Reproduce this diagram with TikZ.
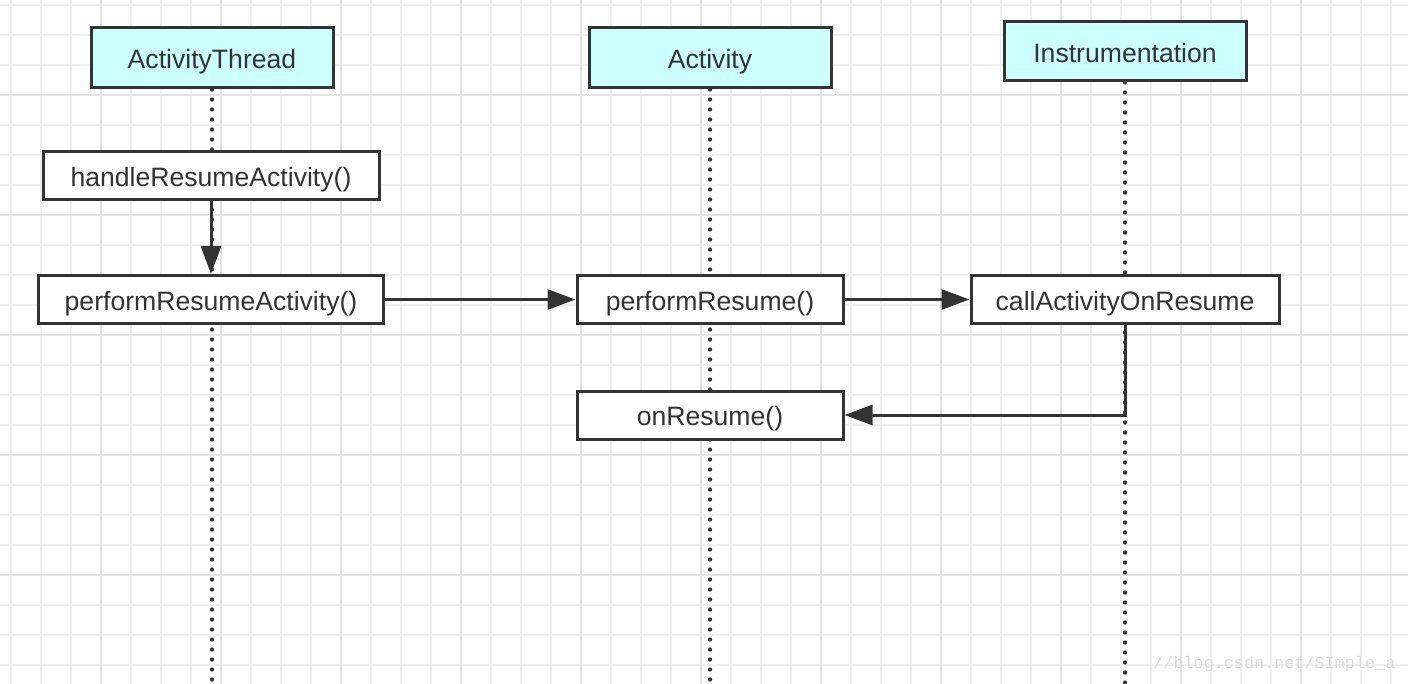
\documentclass[tikz,border=0pt]{standalone}
\usepackage{fontspec}
\setmainfont{Liberation Sans}
\newfontfamily\wmfont{Liberation Mono}
\usetikzlibrary{arrows, arrows.meta}
\usetikzlibrary{calc}
\definecolor{hdrcyan}{HTML}{CCFFFF}
\definecolor{boxline}{HTML}{333333}
\definecolor{gridminor}{HTML}{F0F0F0}
\definecolor{gridmajor}{HTML}{E3E3E3}

\begin{document}
\begin{tikzpicture}[x=0.5pt, y=-0.5pt,
      header/.style={draw=boxline, line width=1.5pt, fill=hdrcyan, text=boxline, font=\fontsize{13.3}{16}\selectfont, text height=10.7pt, text depth=0pt, minimum width=121pt, minimum height=30pt, inner sep=0pt},
      callbox/.style={draw=boxline, line width=1.5pt, fill=white, text=boxline, font=\fontsize{13.3}{16}\selectfont, text height=10.7pt, text depth=0pt, minimum height=24pt, inner sep=0pt},
      lifeline/.style={boxline, line width=2.1pt, line cap=round, dash pattern=on 0pt off 5pt},
      msg/.style={boxline, line width=1.5pt, -{Triangle[length=14pt, width=10pt]}}]
      \useasboundingbox (0,0) rectangle (1408,684);
      \fill[white] (0,0) rectangle (1408,684);
      \foreach \gx in {11,41,...,1408} \draw[gridminor, line width=0.75pt] (\gx,0) -- (\gx,684);
      \foreach \gy in {5,35,...,684} \draw[gridminor, line width=0.75pt] (0,\gy) -- (1408,\gy);
      \foreach \gx in {101,221,...,1408} \draw[gridmajor, line width=1pt] (\gx,0) -- (\gx,684);
      \foreach \gy in {95,215,...,684} \draw[gridmajor, line width=1pt] (0,\gy) -- (1408,\gy);

      \node[header] (thread) at (212,58) {ActivityThread};
      \node[header] (activity) at (710,58) {Activity};
      \node[header, minimum height=29.5pt] (instr) at (1125,51.5) {Instrumentation};

      \coordinate (bottom) at (0,686);
      \draw[lifeline] (thread.south) -- (thread.south |- bottom);
      \draw[lifeline] (activity.south) -- (activity.south |- bottom);
      \draw[lifeline] (instr.south) -- (instr.south |- bottom);

      \node[callbox, minimum width=168pt] (handle) at (211,176) {handleResumeActivity()};
      \node[callbox, minimum width=172.5pt] (performact) at (211,299.5) {performResumeActivity()};
      \node[callbox, minimum width=133pt] (performres) at (710,299.5) {performResume()};
      \node[callbox, minimum width=154pt] (callres) at (1125,299.5) {callActivityOnResume};
      \node[callbox, minimum width=133pt] (onres) at (710,415) {onResume()};

      \draw[msg] (handle) -- (performact);
      \draw[msg] (performact) -- (performres);
      \draw[msg] (performres) -- (callres);
      \draw[msg] (callres.south) |- (onres.east);

      \node[text=black!14, font=\wmfont\fontsize{8.4}{10}\selectfont, anchor=base west, inner sep=0pt] (mark) at (1153,668) {//blog.csdn.net/SImple\_a};
    \end{tikzpicture}
\end{document}
